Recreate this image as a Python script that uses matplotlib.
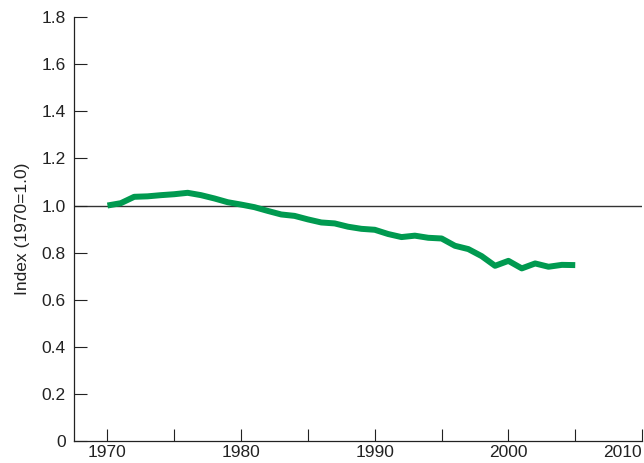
import matplotlib
matplotlib.use("Agg")
import matplotlib.pyplot as plt
import numpy as np

plt.rcParams['font.family'] = ['Liberation Sans', 'DejaVu Sans']

years = list(range(1970, 2006))
index_values = [1.000, 1.010, 1.037, 1.039, 1.044, 1.048, 1.054, 1.044, 1.030, 1.014,
                1.004, 0.993, 0.977, 0.962, 0.956, 0.941, 0.928, 0.924, 0.910, 0.901,
                0.897, 0.879, 0.866, 0.872, 0.863, 0.860, 0.829, 0.815, 0.785, 0.744,
                0.765, 0.733, 0.754, 0.740, 0.748, 0.747]
y_ticks = [0, 0.2, 0.4, 0.6, 0.8, 1.0, 1.2, 1.4, 1.6, 1.8]
y_tick_labels = ["0", "0.2", "0.4", "0.6", "0.8", "1.0", "1.2", "1.4", "1.6", "1.8"]
x_major = [1970, 1980, 1990, 2000, 2010]
x_tick_labels = ["1970", "1980", "1990", "2000", "2010"]
x_minor = [1975, 1985, 1995, 2005]

fig = plt.figure(figsize=(6.44, 4.63), dpi=100)
ax = fig.add_axes([0.115, 0.0475, 0.882, 0.9155])

ax.axhline(1.0, color='#333333', lw=1.0, zorder=1)
ax.plot(years, index_values, color='#009a50', lw=4.3, solid_capstyle='butt', zorder=2)

ax.set_xlim(1967.5, 2010)
ax.set_ylim(0, 1.8)
ax.set_xticks(x_major)
ax.set_xticklabels(x_tick_labels)
ax.set_xticks(x_minor, minor=True)
ax.set_yticks(y_ticks)
ax.set_yticklabels(y_tick_labels)
ax.tick_params(axis='both', which='both', direction='in', length=9, width=0.8,
               labelsize=12.5, colors='#222222')
ax.tick_params(axis='x', pad=3)
ax.tick_params(axis='y', pad=6)
ax.get_xticklabels()[-1].set_horizontalalignment('right')
for s in ['top', 'right']:
    ax.spines[s].set_visible(False)
for s in ['left', 'bottom']:
    ax.spines[s].set_linewidth(0.9)
    ax.spines[s].set_color('#222222')
ax.set_ylabel("Index (1970=1.0)", fontsize=12.5, color='#222222', labelpad=8)

fig.savefig("out.png", dpi=100)
